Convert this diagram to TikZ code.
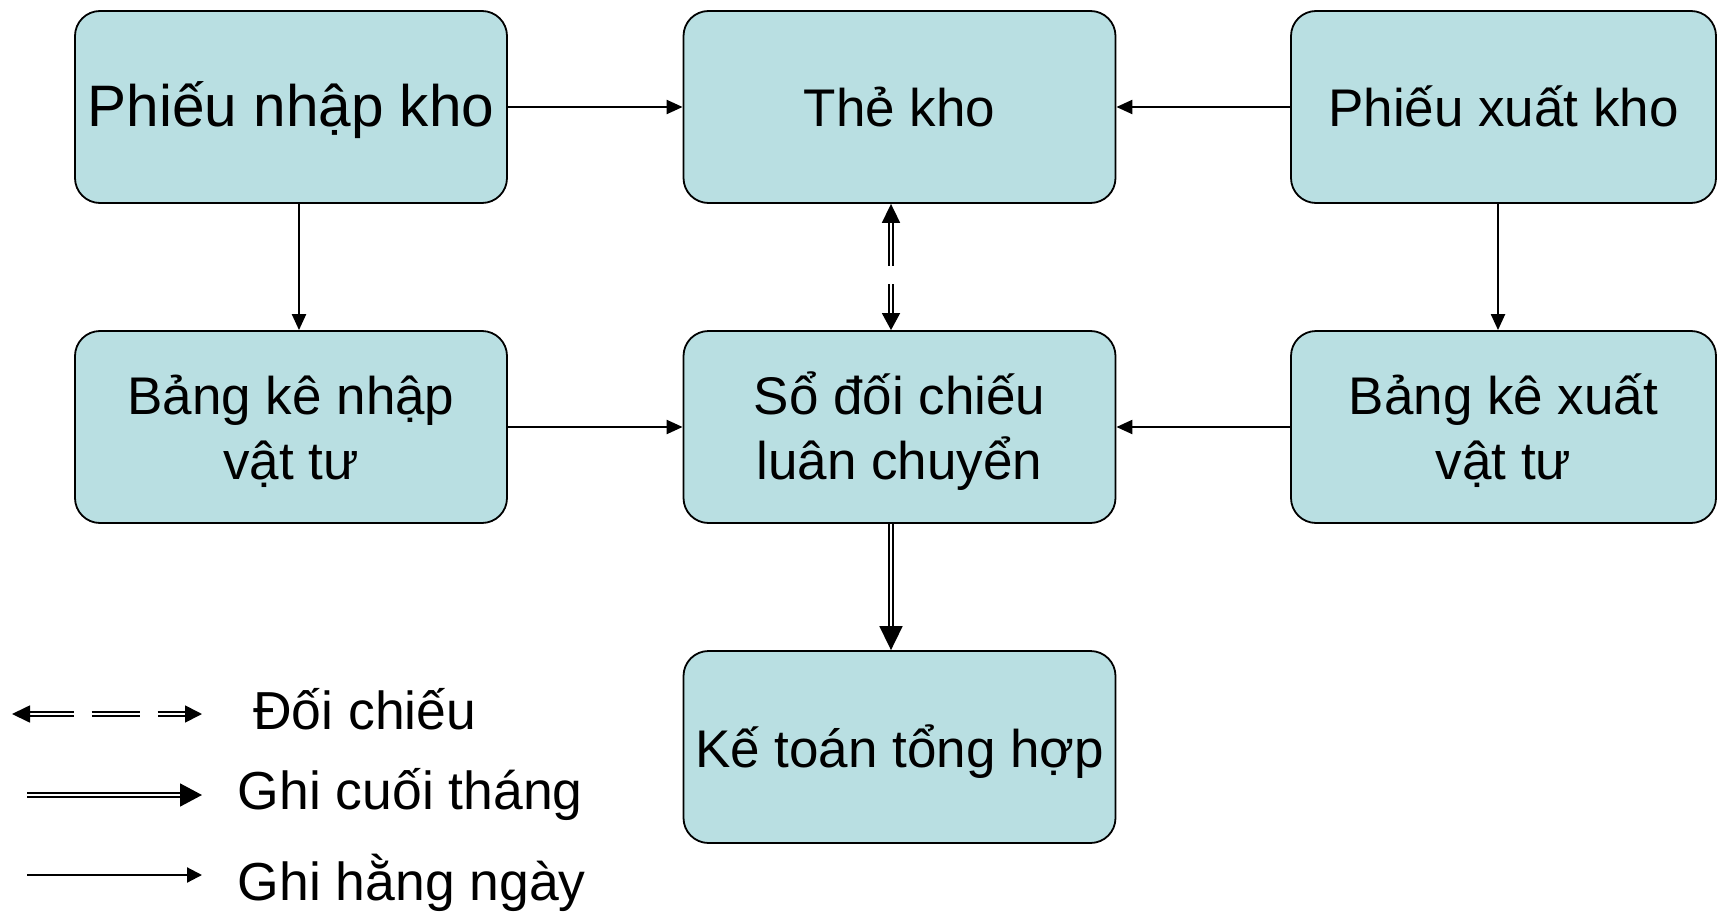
\documentclass[tikz,border=0pt]{standalone}
\usepackage{fontspec}
\setmainfont{Liberation Sans}
\usetikzlibrary{arrows.meta}
\definecolor{boxfill}{RGB}{185,223,226}
% fixed line metrics so every box puts its baselines at the same place
\newcommand{\bxtop}{\rule{0pt}{60pt}}
\newcommand{\bxbot}{\rule[-20pt]{0pt}{20pt}}
\begin{document}
\begin{tikzpicture}[x=1pt,y=-1pt,
  box/.style={draw=black, line width=1.8pt, fill=boxfill, rounded corners=25pt,
    minimum width=432pt, minimum height=192pt, inner sep=0pt, align=center,
    font=\fontsize{53}{65}\selectfont},
  daily/.style={line width=2.2pt, -{Triangle[length=16pt,width=14pt]}},
  monthly/.style={double, line width=1.7pt, double distance=2.6pt,
    -{Triangle[length=24pt,width=23pt]}},
  compare/.style={double, line width=1.7pt, double distance=2.6pt,
    {Triangle[length=19pt,width=18pt]}-{Triangle[length=17pt,width=18pt]}},
  legtxt/.style={anchor=base west, inner sep=0pt, font=\fontsize{53.5}{60}\selectfont}
]
\useasboundingbox (0,0) rectangle (1718,915);

% boxes
\node[box, font=\fontsize{58.5}{70}\selectfont] (pnk) at (291,107) {\bxtop Phiếu nhập kho\bxbot};
\node[box] (thekho) at (899.5,107) {\bxtop Thẻ kho\bxbot};
\node[box, minimum width=425pt] (pxk) at (1503.5,107) {\bxtop Phiếu xuất kho\bxbot};
\node[box] (bkn) at (291,427) {\bxtop Bảng kê nhập\\vật tư\bxbot};
\node[box] (sodc) at (899.5,427) {\bxtop Sổ đối chiếu\\luân chuyển\bxbot};
\node[box, minimum width=425pt] (bkx) at (1503.5,427) {\bxtop Bảng kê xuất\\vật tư\bxbot};
\node[box] (ktth) at (899.5,747) {\bxtop Kế toán tổng hợp\bxbot};

% daily postings
\draw[daily] (pnk.east) -- (thekho.west);
\draw[daily] (pxk.west) -- (thekho.east);
\draw[daily] ([xshift=8pt]pnk.south) -- ([xshift=8pt]bkn.north);
\draw[daily] ([xshift=-5.5pt]pxk.south) -- ([xshift=-5.5pt]bkx.north);
\draw[daily] (bkn.east) -- (sodc.west);
\draw[daily] (bkx.west) -- (sodc.east);

% reconciliation and month-end posting
\draw[compare, dash pattern=on 44pt off 18pt on 200pt]
  ([xshift=-8.5pt]thekho.south) -- ([xshift=-8.5pt]sodc.north);
\draw[monthly] ([xshift=-8.5pt]sodc.south) -- ([xshift=-8.5pt]ktth.north);

% legend
\coordinate (l1a) at (12,714);  \coordinate (l1b) at (202,714);
\coordinate (l2a) at (27,795);  \coordinate (l2b) at (202,795);
\coordinate (l3a) at (27,875);  \coordinate (l3b) at (202,875);
\draw[double, line width=1.7pt, double distance=2.6pt,
  {Triangle[length=18pt,width=17pt]}-{Triangle[length=17pt,width=17pt]},
  dash pattern=on 44pt off 18pt on 48pt off 18pt on 40pt] (l1a) -- (l1b);
\draw[monthly, -{Triangle[length=22pt,width=23pt]}] (l2a) -- (l2b);
\draw[daily, -{Triangle[length=15pt,width=15pt]}] (l3a) -- (l3b);
\node[legtxt] (t1) at (253,729) {Đối chiếu};
\node[legtxt] (t2) at (237.5,809) {Ghi cuối tháng};
\node[legtxt] (t3) at (237.5,900) {Ghi hằng ngày};
\end{tikzpicture}
\end{document}
